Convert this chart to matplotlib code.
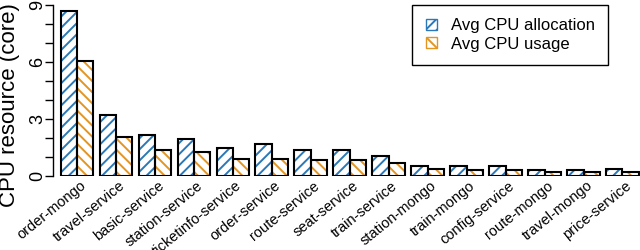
import numpy as np
import matplotlib
matplotlib.use('Agg')
import matplotlib.pyplot as plt
import matplotlib.transforms as mtransforms
from matplotlib.patches import Patch

plt.rcParams['font.family'] = ['Liberation Sans', 'DejaVu Sans']
plt.rcParams['hatch.linewidth'] = 1.4

# data ------------------------------------------------
services = ['order-mongo', 'travel-service', 'basic-service', 'station-service',
            'ticketinfo-service', 'order-service', 'route-service', 'seat-service',
            'train-service', 'station-mongo', 'train-mongo', 'config-service',
            'route-mongo', 'travel-mongo', 'price-service']
cpu_alloc = [8.68, 3.21, 2.15, 1.94, 1.48, 1.66, 1.34, 1.38, 1.02, 0.53, 0.50, 0.50, 0.32, 0.29, 0.35]
cpu_usage = [6.03, 2.05, 1.38, 1.24, 0.88, 0.88, 0.81, 0.81, 0.67, 0.35, 0.28, 0.30, 0.21, 0.18, 0.18]
yticks = [0, 3, 6, 9]

blue = '#2a78b8'
orange = '#e39522'

fig = plt.figure(figsize=(6.4, 2.5), dpi=100)
ax = fig.add_axes([52.5 / 640, 1 - 175.7 / 250, 1 - 52.5 / 640, (175.7 - 5) / 250])

x = np.arange(len(services))
w = 0.42

# hatched fill first, then black outline on top
ax.bar(x - w / 2, cpu_alloc, w, facecolor='white', edgecolor=blue, hatch='///', linewidth=0)
ax.bar(x + w / 2, cpu_usage, w, facecolor='white', edgecolor=orange, hatch='\\\\\\', linewidth=0)
ax.bar(x - w / 2, cpu_alloc, w, facecolor='none', edgecolor='black', linewidth=1.5)
ax.bar(x + w / 2, cpu_usage, w, facecolor='none', edgecolor='black', linewidth=1.5)

ax.set_xlim(-0.63, 14.45)
ax.set_ylim(0, 9)

for s in ['top', 'right', 'bottom']:
    ax.spines[s].set_visible(False)
ax.spines['left'].set_bounds(0, 9)
ax.spines['left'].set_linewidth(1.0)

ax.set_yticks(yticks)
ax.set_yticks(np.arange(0, 10), minor=True)
ax.tick_params(axis='y', which='both', length=5.5, width=1.0, direction='out')
ax.tick_params(axis='y', which='major', labelsize=13, pad=-1)
for lab in ax.get_yticklabels():
    lab.set_rotation(90)
    lab.set_va('center')

ax.set_xticks(x)
ax.set_xticklabels(services, rotation=39, ha='right', va='center', rotation_mode='anchor', fontsize=10.5)
ax.tick_params(axis='x', length=0, pad=6)
shift = mtransforms.ScaledTranslation(7 / 100, 0, fig.dpi_scale_trans)
for lab in ax.get_xticklabels():
    lab.set_transform(lab.get_transform() + shift)

fig.text(10 / 640, 1 - 105 / 250, 'CPU resource (core)', rotation=90, fontsize=16,
         ha='center', va='center')

handles = [Patch(facecolor='white', edgecolor=blue, hatch='///', linewidth=1),
           Patch(facecolor='white', edgecolor=orange, hatch='\\\\\\', linewidth=1)]
leg = fig.legend(handles, ['Avg CPU allocation', 'Avg CPU usage'], loc='upper right',
                 bbox_to_anchor=(608 / 640, 1 - 5 / 250), fontsize=12, fancybox=False,
                 edgecolor='black', framealpha=1, handlelength=0.7, handleheight=0.6,
                 handletextpad=0.8, labelspacing=0.2, borderpad=0.8, borderaxespad=0)
leg.get_frame().set_linewidth(1.0)

plt.savefig('out.png', dpi=100)
